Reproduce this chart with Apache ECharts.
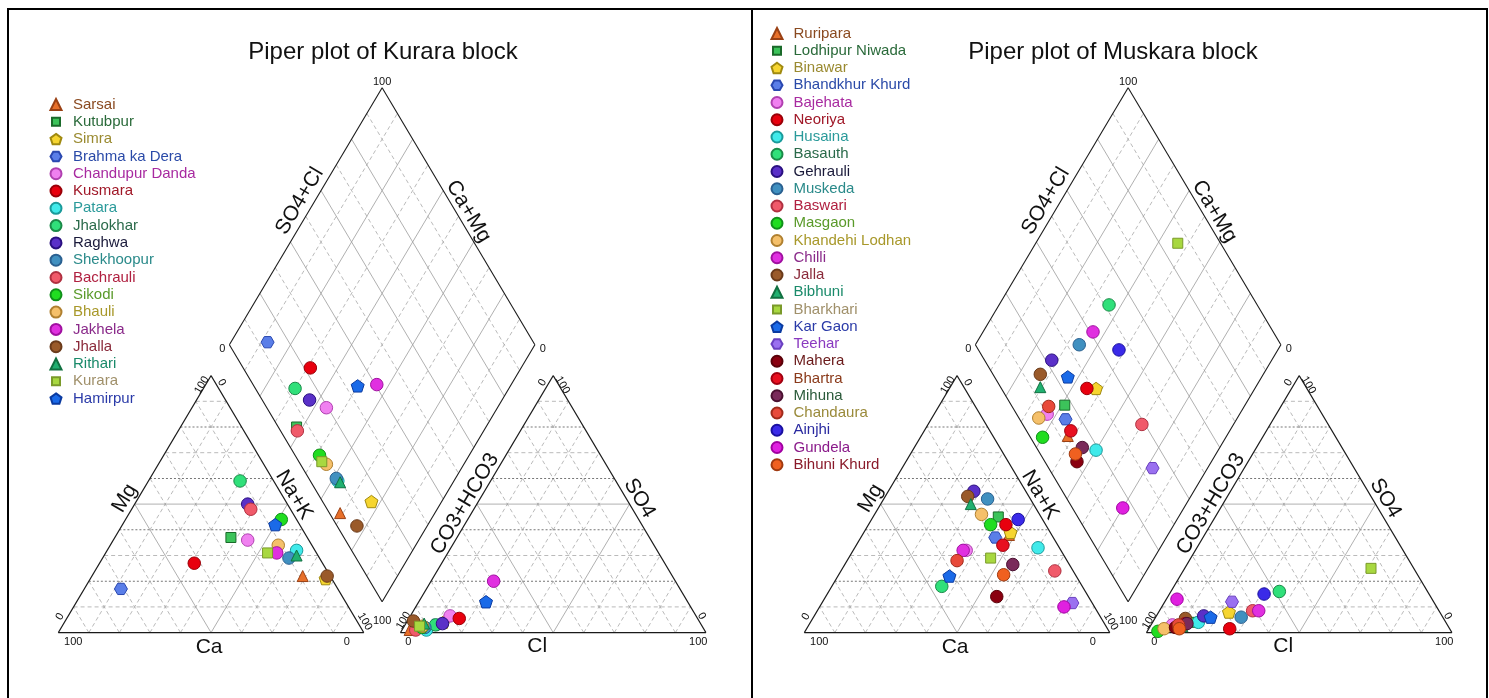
<!DOCTYPE html>
<html>
<head>
<meta charset="utf-8">
<title>Piper plots – Kurara and Muskara blocks</title>
<script src="https://cdn.jsdelivr.net/npm/echarts@6/dist/echarts.min.js"></script>
<style>
  html, body { margin: 0; padding: 0; background: #ffffff; }
  #chart { width: 1489px; height: 698px; }
</style>
</head>
<body>
<div id="chart"></div>
<script>
// ---------------------------------------------------------------------------
// Sample chemistry, in % of total cations and % of total anions (meq/l).
// Na+K = 100 - Ca - Mg ;  CO3+HCO3 = 100 - Cl - SO4
// ---------------------------------------------------------------------------

// Kurara block
const kuraraSites = ['Sarsai', 'Kutubpur', 'Simra', 'Brahma ka Dera', 'Chandupur Danda', 'Kusmara',
  'Patara', 'Jhalokhar', 'Raghwa', 'Shekhoopur', 'Bachrauli', 'Sikodi', 'Bhauli', 'Jakhela',
  'Jhalla', 'Rithari', 'Kurara', 'Hamirpur'];
const kuraraCa  = [9, 25, 2, 71, 20, 42, 6, 11, 13, 10, 13, 5, 11, 13, 1, 7, 16, 8];
const kuraraMg  = [22, 37, 21, 17, 36, 27, 32, 59, 50, 29, 48, 44, 34, 31, 22, 30, 31, 42];
const kuraraCl  = [2.5, 4, 12, 10, 13, 16.5, 8, 10, 12, 7, 4.5, 6, 6, 20.5, 2, 6, 5, 22];
const kuraraSO4 = [1, 2, 4, 3, 6.5, 5.5, 1, 3, 3.5, 2, 1, 2, 2.5, 20, 4.5, 3.5, 2.5, 12];

// Muskara block
const muskaraSites = ['Ruripara', 'Lodhipur Niwada', 'Binawar', 'Bhandkhur Khurd', 'Bajehata', 'Neoriya',
  'Husaina', 'Basauth', 'Gehrauli', 'Muskeda', 'Baswari', 'Masgaon', 'Khandehi Lodhan', 'Chilli',
  'Jalla', 'Bibhuni', 'Bharkhari', 'Kar Gaon', 'Teehar', 'Mahera', 'Bhartra', 'Mihuna',
  'Chandaura', 'Ainjhi', 'Gundela', 'Bihuni Khurd'];
const muskaraCa  = [14, 14, 13, 19, 31, 13, 7, 46, 17, 14, 6, 18, 19, 32, 20, 20.5, 24.5, 41.5, 6.5, 30, 18, 18.5, 36, 8, 10, 23.5];
const muskaraMg  = [38, 45, 39, 37, 32, 42, 33, 18, 55, 52, 24, 42, 46, 32, 53, 50, 29, 22, 11.5, 14, 34, 26.5, 28, 44, 10, 22.5];
const muskaraCl  = [9.5, 13.5, 23, 11, 7, 26.5, 15, 35.5, 15.5, 28, 30.5, 3.5, 5, 32.5, 10, 10.5, 61, 18, 22, 8.5, 11, 11.5, 9, 31, 3.5, 10];
const muskaraSO4 = [3, 4, 8, 4, 3, 1.5, 4, 16, 6.5, 6, 8.5, 0.5, 1.5, 8.5, 5.5, 2.5, 25, 6, 12, 2, 3.5, 3.5, 3, 15, 13, 1.5];

// Plot titles and tick captions
const plotTitles = ['Piper plot of Kurara block', 'Piper plot of Muskara block'];
const tickMin = '0';
const tickMax = '100';

// ---------------------------------------------------------------------------
// Marker styles, shared by position in both legends
// ---------------------------------------------------------------------------
const SHAPE_PATH = {
  triangle: 'triangle',
  square: 'rect',
  circle: 'circle',
  pentagon: 'path://M0,-1L0.951,-0.309L0.588,0.809L-0.588,0.809L-0.951,-0.309Z',
  hexagon: 'path://M-1,0L-0.5,-0.866L0.5,-0.866L1,0L0.5,0.866L-0.5,0.866Z'
};
const LEGEND_ICON = {
  triangle: 'triangle',
  square: 'path://M0,0M11,11M1.5,1.5L9.5,1.5L9.5,9.5L1.5,9.5Z',
  circle: 'circle',
  pentagon: SHAPE_PATH.pentagon,
  hexagon: SHAPE_PATH.hexagon
};
const SHAPE_SIZE = { triangle: 11, square: 10, circle: 12.5, pentagon: 13, hexagon: 13 };

const MARKERS = [
  { shape: 'triangle', fill: '#e8702a', edge: '#9a4014', text: '#8a4a20' },
  { shape: 'square',   fill: '#3cc35a', edge: '#1a6a2a', text: '#2a6a3a' },
  { shape: 'pentagon', fill: '#f6d530', edge: '#a08a10', text: '#9a8a30' },
  { shape: 'hexagon',  fill: '#5a7ee8', edge: '#2a48b0', text: '#2a4aa8' },
  { shape: 'circle',   fill: '#f080f0', edge: '#b040b0', text: '#a82aa0' },
  { shape: 'circle',   fill: '#e8000e', edge: '#9a0008', text: '#a01828' },
  { shape: 'circle',   fill: '#40eaea', edge: '#1a9a9a', text: '#2a9a9a' },
  { shape: 'circle',   fill: '#30e07a', edge: '#1a8a48', text: '#2a6a4a' },
  { shape: 'circle',   fill: '#5a30c8', edge: '#2a1080', text: '#1a1a3a' },
  { shape: 'circle',   fill: '#4090c0', edge: '#2a6090', text: '#2a8a8a' },
  { shape: 'circle',   fill: '#f05a6a', edge: '#b03040', text: '#b02040' },
  { shape: 'circle',   fill: '#20dd20', edge: '#10901a', text: '#5a9a2a' },
  { shape: 'circle',   fill: '#f5c06a', edge: '#b08030', text: '#a8982a' },
  { shape: 'circle',   fill: '#e030e0', edge: '#a010a0', text: '#8a2a8a' },
  { shape: 'circle',   fill: '#9a5a2a', edge: '#6a3a1a', text: '#8a2a3a' },
  { shape: 'triangle', fill: '#20b070', edge: '#107040', text: '#1a8a6a' },
  { shape: 'square',   fill: '#a8d840', edge: '#7a9a2a', text: '#a0906a' },
  { shape: 'pentagon', fill: '#1a6ae8', edge: '#0a3aa0', text: '#2a3aa8' },
  { shape: 'hexagon',  fill: '#9a70f0', edge: '#6a40c0', text: '#8a3ac0' },
  { shape: 'circle',   fill: '#8a0010', edge: '#5a0008', text: '#6a1a1a' },
  { shape: 'circle',   fill: '#e81020', edge: '#a00010', text: '#8a3a1a' },
  { shape: 'circle',   fill: '#7a2a5a', edge: '#4a1030', text: '#2a5a3a' },
  { shape: 'circle',   fill: '#e84a3a', edge: '#a02a1a', text: '#9a8a3a' },
  { shape: 'circle',   fill: '#3a2ae8', edge: '#1a10a0', text: '#2a2aa0' },
  { shape: 'circle',   fill: '#e020e0', edge: '#a000a0', text: '#8a1a8a' },
  { shape: 'circle',   fill: '#f06020', edge: '#a03a10', text: '#8a1a2a' }
];

// ---------------------------------------------------------------------------
// Piper geometry in axis units: triangles are 100 wide, TRI_H tall,
// separated by GAP; the diamond sits above between them.
// ---------------------------------------------------------------------------
const TRI_H = 86.6;
const GAP = 12;
const DY0 = (GAP / 2) * TRI_H / 50;          // height of the diamond's lower vertex
const X_RANGE = [-10, 222];
const Y_RANGE = [-10, 190];

function cationXY(ca, mg) {
  const nk = 100 - ca - mg;
  return [nk + mg / 2, mg * TRI_H / 100];
}
function anionXY(cl, so4) {
  return [100 + GAP + cl + so4 / 2, so4 * TRI_H / 100];
}
function diamondXY(nk, sc) {
  return [50 + GAP / 2 + (nk + sc) / 2, DY0 + TRI_H + (sc - nk) * TRI_H / 100];
}

// pixel placement of the two plot areas
const PX_PER_X = 305.5 / 100;
const PX_PER_Y = 257 / TRI_H;
const BASE_Y = 632.6;
const ORIGIN_X = [58.3, 804.3];
function gridFor(ox) {
  return {
    left: ox + X_RANGE[0] * PX_PER_X,
    width: (X_RANGE[1] - X_RANGE[0]) * PX_PER_X,
    top: BASE_Y - Y_RANGE[1] * PX_PER_Y,
    height: (Y_RANGE[1] - Y_RANGE[0]) * PX_PER_Y,
    containLabel: false
  };
}

// ---------------------------------------------------------------------------
// Frame: triangle and diamond outlines, 10 % grid, tick captions, axis names
// ---------------------------------------------------------------------------
const EDGE = { stroke: '#1a1a1a', lineWidth: 1.1, fill: null };
const GRID_SOLID = { stroke: '#9c9c9c', lineWidth: 0.8, fill: null };
const GRID_DASH = { stroke: '#a8a8a8', lineWidth: 0.8, lineDash: [4, 3], fill: null };
const GRID_DOT = { stroke: '#555555', lineWidth: 0.8, lineDash: [2, 2], fill: null };
const AXIS_FONT = 'Liberation Sans, Arial, sans-serif';
const TICK_FONT = 'Liberation Sans Narrow, Liberation Sans, Arial, sans-serif';

function drawFrame(params, api) {
  const H = TRI_H;
  const px = p => api.coord(p);
  const out = [];
  const seg = (a, b, style) => {
    const p = px(a), q = px(b);
    out.push({ type: 'line', silent: true, shape: { x1: p[0], y1: p[1], x2: q[0], y2: q[1] }, style: style });
  };
  const text = (str, p, rot, size, family) => {
    out.push({
      type: 'text', silent: true, x: p[0], y: p[1], rotation: rot,
      style: { text: str, fill: '#111111', fontSize: size, fontFamily: family, align: 'center', verticalAlign: 'middle' }
    });
  };
  const edgeText = (str, a, b, n, t, size) => {
    const p = px(a), q = px(b);
    let ux = q[0] - p[0], uy = q[1] - p[1];
    const len = Math.hypot(ux, uy);
    ux /= len; uy /= len;
    const nx = uy, ny = -ux;
    text(str, [(p[0] + q[0]) / 2 + nx * n + ux * t, (p[1] + q[1]) / 2 + ny * n + uy * t], -Math.atan2(uy, ux), size, AXIS_FONT);
  };
  const a0 = px([0, 0]), a1 = px([50, H]);
  const ang = Math.atan2(a0[1] - a1[1], a1[0] - a0[0]);
  const tick = (str, anchor, dx, dy, rot) => {
    const p = px(anchor);
    text(str, [p[0] + dx, p[1] + dy], rot, 11, TICK_FONT);
  };

  // ternary triangle grids
  [0, 100 + GAP].forEach(ox => {
    for (let v = 10; v < 100; v += 10) {
      const y = v * H / 100;
      const hStyle = v === 50 ? GRID_SOLID : (v % 20 === 0 ? GRID_DOT : GRID_DASH);
      const dStyle = v === 50 ? GRID_SOLID : GRID_DASH;
      seg([ox + v / 2, y], [ox + 100 - v / 2, y], hStyle);
      seg([ox + v, 0], [ox + v + (100 - v) / 2, (100 - v) * H / 100], dStyle);
      seg([ox + 100 - v, 0], [ox + (100 - v) / 2, (100 - v) * H / 100], dStyle);
    }
    seg([ox, 0], [ox + 100, 0], EDGE);
    seg([ox + 100, 0], [ox + 50, H], EDGE);
    seg([ox + 50, H], [ox, 0], EDGE);
  });

  // diamond grid
  for (let v = 10; v < 100; v += 10) {
    const st = v % 20 === 0 ? GRID_SOLID : GRID_DASH;
    seg(diamondXY(v, 0), diamondXY(v, 100), st);
    seg(diamondXY(0, v), diamondXY(100, v), st);
  }
  const L = diamondXY(0, 0), B = diamondXY(100, 0), R = diamondXY(100, 100), T = diamondXY(0, 100);
  seg(L, B, EDGE); seg(B, R, EDGE); seg(R, T, EDGE); seg(T, L, EDGE);

  // tick captions
  const cA = [0, 0], cB = [100, 0], cT = [50, H];
  const aA = [100 + GAP, 0], aB = [200 + GAP, 0], aT = [150 + GAP, H];
  tick(tickMax, cT, -9.3, 9.4, ang);       // Mg 100
  tick(tickMin, cT, 10.7, 7, -ang);        // Na+K 0
  tick(tickMin, cA, 1.7, -16, ang);        // Mg 0
  tick(tickMax, cA, 15, 9, 0);             // Ca 100
  tick(tickMax, cB, 1, -11, -ang);         // Na+K 100
  tick(tickMin, cB, -17, 9, 0);            // Ca 0
  tick(tickMax, aA, 3, -12, ang);          // CO3+HCO3 100
  tick(tickMin, aA, 7.8, 9, 0);            // Cl 0
  tick(tickMin, aB, -4.3, -16.5, -ang);    // SO4 0
  tick(tickMax, aB, -7.7, 9, 0);           // Cl 100
  tick(tickMin, aT, -10.7, 7, ang);        // CO3+HCO3 0
  tick(tickMax, aT, 9.3, 9.4, -ang);       // SO4 100
  tick(tickMax, T, 0, -6, 0);
  tick(tickMin, L, -7, 4, 0);
  tick(tickMin, R, 8, 4, 0);
  tick(tickMax, B, 0, 19, 0);

  // axis names
  edgeText('Mg', cA, cT, 11.5, 0, 21);
  edgeText('Na+K', cT, cB, 10.4, -4.5, 21);
  edgeText('Ca', cA, cB, -15, -2, 21);
  edgeText('CO3+HCO3', aA, aT, 10.4, -6, 21);
  edgeText('SO4', aT, aB, 11.5, 0, 21);
  edgeText('Cl', aA, aB, -14, -16, 21);
  edgeText('SO4+Cl', L, T, 13, 10, 21);
  edgeText('Ca+Mg', T, R, 11, 1, 21);

  return { type: 'group', children: out };
}

// ---------------------------------------------------------------------------
// Series per sample: one point in each triangle and its projection in the diamond
// ---------------------------------------------------------------------------
function sampleSeries(sites, ca, mg, cl, so4, gi) {
  return sites.map((name, i) => {
    const m = MARKERS[i];
    const nk = 100 - ca[i] - mg[i];
    const sc = cl[i] + so4[i];
    return {
      type: 'scatter', name: name, xAxisIndex: gi, yAxisIndex: gi,
      symbol: SHAPE_PATH[m.shape], symbolSize: SHAPE_SIZE[m.shape], symbolKeepAspect: true,
      itemStyle: { color: m.fill, borderColor: m.edge, borderWidth: 1, opacity: 1 },
      emphasis: { disabled: true },
      clip: false, z: 3,
      data: [cationXY(ca[i], mg[i]), anionXY(cl[i], so4[i]), diamondXY(nk, sc)]
    };
  });
}

function legendFor(sites, left, top, gap, pad) {
  return {
    orient: 'vertical', left: left, top: top,
    itemWidth: 11, itemHeight: 11, itemGap: gap,
    selectedMode: false,
    textStyle: { fontSize: 15, fontFamily: AXIS_FONT, lineHeight: 14, padding: [0, 0, 0, pad] },
    data: sites.map((name, i) => ({
      name: name,
      icon: LEGEND_ICON[MARKERS[i].shape],
      textStyle: { color: MARKERS[i].text }
    }))
  };
}

function borderLine(x1, y1, x2, y2) {
  return { type: 'line', silent: true, shape: { x1, y1, x2, y2 }, style: { stroke: '#000', lineWidth: 2 } };
}

const option = {
  animation: false,
  backgroundColor: '#ffffff',
  grid: [gridFor(ORIGIN_X[0]), gridFor(ORIGIN_X[1])],
  xAxis: [0, 1].map(i => ({ type: 'value', gridIndex: i, min: X_RANGE[0], max: X_RANGE[1], show: false })),
  yAxis: [0, 1].map(i => ({ type: 'value', gridIndex: i, min: Y_RANGE[0], max: Y_RANGE[1], show: false })),
  legend: [
    legendFor(kuraraSites, 44.5, 92, 2.3, 6.5),
    legendFor(muskaraSites, 765.5, 21, 2.25, 6)
  ],
  graphic: [
    borderLine(7, 9, 1488, 9),
    borderLine(8, 8, 8, 698),
    borderLine(752, 8, 752, 698),
    borderLine(1487, 8, 1487, 698),
    { type: 'text', x: 383, y: 52, silent: true,
      style: { text: plotTitles[0], fontSize: 24, fontFamily: AXIS_FONT, fill: '#111', align: 'center', verticalAlign: 'middle' } },
    { type: 'text', x: 1113, y: 52, silent: true,
      style: { text: plotTitles[1], fontSize: 24, fontFamily: AXIS_FONT, fill: '#111', align: 'center', verticalAlign: 'middle' } }
  ],
  series: [
    { type: 'custom', xAxisIndex: 0, yAxisIndex: 0, renderItem: drawFrame, data: [[0, 0]], z: 1, silent: true, clip: false },
    { type: 'custom', xAxisIndex: 1, yAxisIndex: 1, renderItem: drawFrame, data: [[0, 0]], z: 1, silent: true, clip: false }
  ]
    .concat(sampleSeries(kuraraSites, kuraraCa, kuraraMg, kuraraCl, kuraraSO4, 0))
    .concat(sampleSeries(muskaraSites, muskaraCa, muskaraMg, muskaraCl, muskaraSO4, 1))
};

const chart = echarts.init(document.getElementById('chart'));
chart.setOption(option);
</script>
</body>
</html>
